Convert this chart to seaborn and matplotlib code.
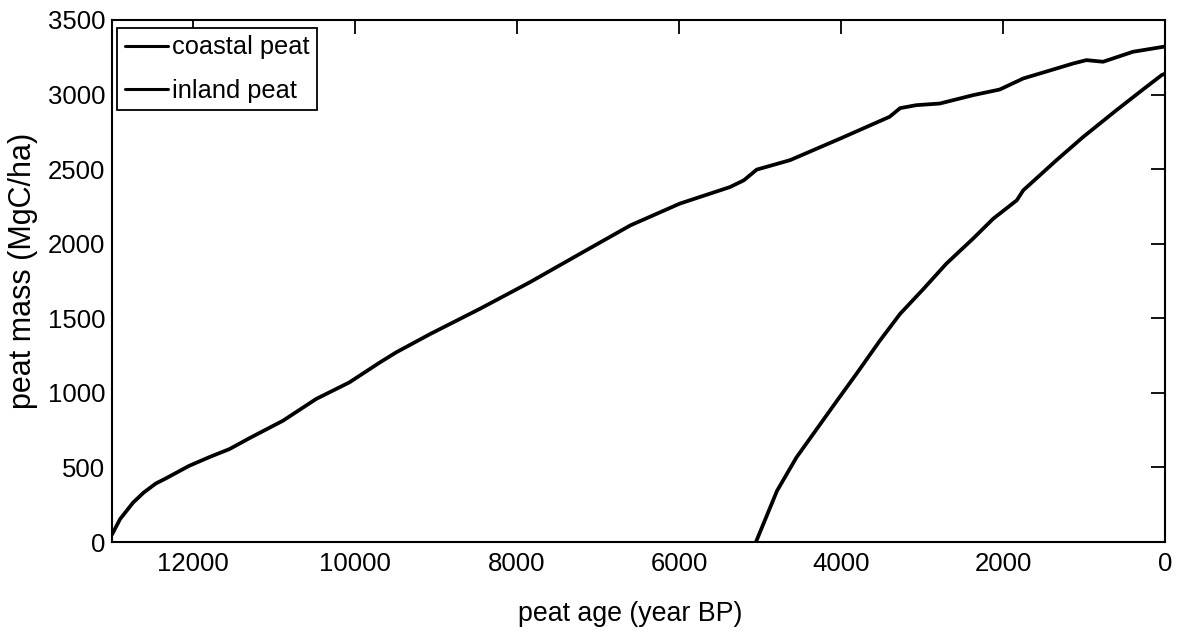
import matplotlib
matplotlib.use("Agg")
import matplotlib.pyplot as plt
import seaborn as sns
import pandas as pd

# ---- data ----
coastal_age = [13000, 12900, 12740, 12610, 12460, 12340, 12050, 11790, 11550, 11300,
               10890, 10480, 10070, 9690, 9490, 9070, 8460, 7840, 7220, 6600, 5990,
               5370, 5200, 5040, 4630, 4010, 3400, 3270, 3070, 2780, 2370, 2040, 1750,
               1130, 1050, 970, 765, 395, 25, 0]
coastal_mass = [50, 154, 264, 331, 392, 425, 510, 571, 623, 697,
                813, 959, 1070, 1205, 1272, 1395, 1563, 1742, 1933, 2123, 2269,
                2380, 2425, 2497, 2560, 2705, 2851, 2909, 2929, 2940, 2996, 3034, 3108,
                3209, 3220, 3231, 3220, 3287, 3320, 3322]

inland_age = [5050, 4790, 4550, 4300, 4050, 3810, 3520, 3270, 2980, 2700, 2370,
              2120, 1830, 1750, 1340, 1010, 600, 310, 40, 0]
inland_mass = [0, 343, 567, 757, 947, 1127, 1350, 1530, 1698, 1866, 2034,
               2168, 2291, 2358, 2560, 2716, 2895, 3018, 3131, 3140]

series_names = ["coastal peat", "inland peat"]
x_ticks = [12000, 10000, 8000, 6000, 4000, 2000, 0]
y_ticks = [0, 500, 1000, 1500, 2000, 2500, 3000, 3500]

df = pd.concat([
    pd.DataFrame({"age": coastal_age, "mass": coastal_mass, "series": series_names[0]}),
    pd.DataFrame({"age": inland_age, "mass": inland_mass, "series": series_names[1]}),
], ignore_index=True)

sns.set_theme(style="white")

plt.rcParams["font.family"] = ["Liberation Sans", "DejaVu Sans"]
plt.rcParams["text.color"] = "black"
plt.rcParams["axes.labelcolor"] = "black"
plt.rcParams["xtick.color"] = "black"
plt.rcParams["ytick.color"] = "black"

tick_fs, xlabel_fs, ylabel_fs, leg_fs = 18.5, 19.3, 22.0, 18.3

fig = plt.figure(figsize=(11.82, 6.34), dpi=100)
ax = fig.add_axes([112 / 1182, 1 - 542 / 634, (1165 - 112) / 1182, (542 - 20) / 634])

sns.lineplot(data=df, x="age", y="mass", hue="series", palette=["black", "black"],
             linewidth=2.7, sort=False, estimator=None, ax=ax, legend=True)

ax.set_xlim(13000, 0)
ax.set_ylim(0, 3500)
ax.set_xticks(x_ticks)
ax.set_yticks(y_ticks)
ax.tick_params(direction="in", length=10, width=1.3, top=True, right=True,
               labelsize=tick_fs, colors="black")
ax.tick_params(axis="x", pad=7)
ax.tick_params(axis="y", pad=5)
for sp in ax.spines.values():
    sp.set_visible(True)
    sp.set_color("black")
    sp.set_linewidth(1.5)

ax.set_xlabel("peat age (year BP)", fontsize=xlabel_fs, color="black", va="center")
ax.set_ylabel("peat mass (MgC/ha)", fontsize=ylabel_fs, color="black", va="center")
ax.xaxis.set_label_coords(0.492, -(614 - 542) / 522)
ax.yaxis.set_label_coords(-(112 - 23) / 1053, 0.52)

leg = ax.legend(loc="upper left", bbox_to_anchor=(0.005, 0.985), fontsize=leg_fs,
                frameon=True, fancybox=False, edgecolor="black", framealpha=1,
                handlelength=1.7, handletextpad=0.15, borderpad=0.3,
                labelspacing=0.75, borderaxespad=0)
leg.get_frame().set_linewidth(1.3)
for line in leg.get_lines():
    line.set_linewidth(2.2)
for t in leg.get_texts():
    t.set_color("black")

fig.savefig("out.png", dpi=100)
